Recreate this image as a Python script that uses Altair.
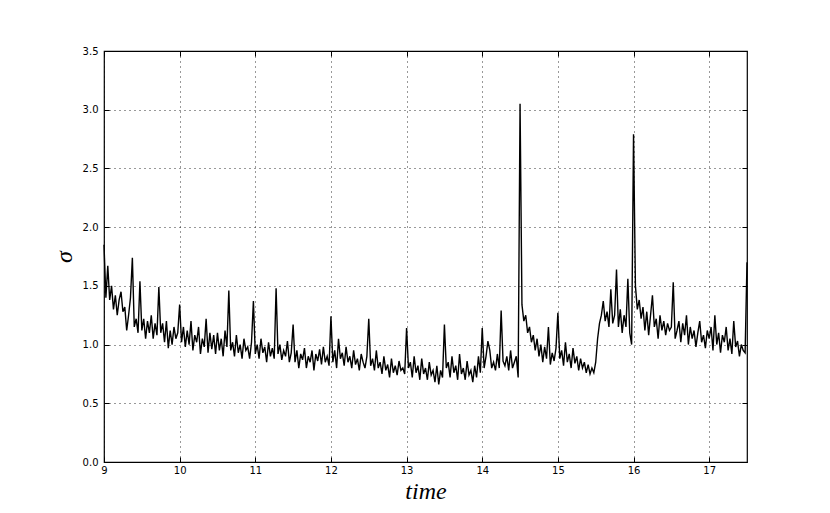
import altair as alt
import pandas as pd

T_START = 9.0
T_STEP = 0.025

sigma_rows = [
    [1.85,1.40,1.67,1.38,1.50,1.30,1.42,1.25,1.38,1.45,1.28,1.32,1.12,1.25,1.40,1.74,1.15,1.22,1.10,1.54],
    [1.12,1.22,1.05,1.20,1.10,1.25,1.05,1.18,1.08,1.49,1.10,1.18,1.02,1.20,0.97,1.12,1.00,1.15,1.05,1.10],
    [1.34,1.02,1.15,0.98,1.12,1.00,1.20,0.95,1.08,1.02,1.15,0.92,1.05,0.98,1.22,0.93,1.10,0.96,1.08,0.92],
    [1.10,0.95,1.05,0.90,1.12,0.98,1.46,0.95,1.02,0.90,1.08,0.93,1.00,0.88,1.05,0.95,0.98,0.88,1.02,1.37],
    [0.92,1.00,0.88,1.05,0.93,0.98,0.85,1.02,0.90,0.97,0.88,1.48,0.92,1.00,0.87,0.95,0.90,1.03,0.85,0.93],
    [1.17,0.85,0.95,0.80,0.92,0.87,0.97,0.80,0.90,0.85,0.95,0.78,0.92,0.86,0.96,0.83,0.98,0.85,0.90,0.82],
    [1.24,0.85,0.95,0.80,1.05,0.88,0.93,0.82,0.98,0.85,0.90,0.80,0.95,0.83,0.88,0.78,0.92,0.85,0.80,0.90],
    [1.22,0.82,0.88,0.78,0.95,0.80,0.85,0.75,0.90,0.78,0.83,0.72,0.88,0.76,0.82,0.74,0.86,0.78,0.80,0.75],
    [1.14,0.80,0.85,0.72,0.90,0.76,0.82,0.70,0.88,0.75,0.80,0.70,0.85,0.74,0.78,0.68,0.82,0.66,0.78,0.72],
    [1.17,0.80,0.85,0.72,0.90,0.76,0.82,0.70,0.92,0.75,0.80,0.70,0.86,0.74,0.78,0.68,0.82,0.72,0.90,0.76],
    [1.14,0.80,0.90,1.03,0.95,0.80,0.85,0.78,0.92,0.80,1.29,0.86,0.82,0.90,0.78,0.95,0.80,0.85,0.90,0.72],
    [3.05,1.34,1.20,1.25,1.10,1.15,1.02,1.08,0.95,1.05,0.90,1.00,0.85,0.98,0.88,1.15,0.83,0.93,0.86,0.97],
    [1.27,0.88,0.95,0.82,1.02,0.85,0.92,0.80,0.97,0.84,0.90,0.78,0.88,0.80,0.85,0.76,0.83,0.75,0.80,0.76],
    [0.85,1.05,1.18,1.25,1.37,1.20,1.28,1.15,1.47,1.18,1.25,1.64,1.15,1.30,1.10,1.25,1.15,1.56,1.10,1.00],
    [2.79,1.50,1.30,1.38,1.22,1.32,1.12,1.28,1.08,1.25,1.42,1.15,1.22,1.05,1.25,1.12,1.20,1.08,1.18,1.12],
    [1.15,1.53,1.05,1.12,1.20,1.02,1.18,1.08,1.25,1.00,1.15,1.05,1.12,0.98,1.10,1.20,1.02,1.08,0.97,1.12],
    [1.05,1.15,0.95,1.25,1.00,1.10,0.93,1.08,1.02,1.15,0.95,1.05,0.92,1.20,0.98,1.03,0.90,1.00,0.95,0.93],
    [1.70],
]

x_ticks = [9, 10, 11, 12, 13, 14, 15, 16, 17]
y_ticks = [0.0, 0.5, 1.0, 1.5, 2.0, 2.5, 3.0, 3.5]

sigma = [v for row in sigma_rows for v in row]
times = [round(T_START + T_STEP * i, 3) for i in range(len(sigma))]
df = pd.DataFrame({"time": times, "sigma": sigma})

TICK = 5
xscale = alt.Scale(domain=[9, 17.5], nice=False, zero=False)
yscale = alt.Scale(domain=[0, 3.5], nice=False, zero=True)

base = alt.Chart(df)

main = base.mark_line(color="black", strokeWidth=1.4).encode(
    x=alt.X("time:Q", scale=xscale,
            axis=alt.Axis(values=x_ticks, format="d", title="time", orient="bottom",
                          domain=False, ticks=True, tickSize=TICK, offset=-TICK,
                          tickColor="black", labelPadding=3, labelFlush=False,
                          labelOverlap=False,
                          labelFont="DejaVu Sans", labelFontSize=10, labelColor="black",
                          titleFont="Liberation Serif", titleFontStyle="italic",
                          titleFontWeight="normal", titleFontSize=24, titleColor="black",
                          titlePadding=4,
                          grid=True, gridColor="black", gridDash=[1, 4], gridWidth=1,
                          gridOpacity=0.8)),
    y=alt.Y("sigma:Q", scale=yscale,
            axis=alt.Axis(values=y_ticks, format=".1f", title="σ", orient="left",
                          domain=False, ticks=True, tickSize=TICK, offset=-TICK,
                          tickColor="black", labelPadding=6, labelFlush=False,
                          labelOverlap=False,
                          labelFont="DejaVu Sans", labelFontSize=10, labelColor="black",
                          titleFont="Liberation Serif", titleFontStyle="italic",
                          titleFontWeight="normal", titleFontSize=24, titleColor="black",
                          titlePadding=6,
                          grid=True, gridColor="black", gridDash=[1, 4], gridWidth=1,
                          gridOpacity=0.8)),
)

frame = base.mark_line(strokeOpacity=0).encode(
    x=alt.X("time:Q", scale=xscale,
            axis=alt.Axis(values=x_ticks, orient="top", labels=False, title=None,
                          domain=False, ticks=True, tickSize=TICK, offset=-TICK,
                          tickColor="black", grid=False)),
    y=alt.Y("sigma:Q", scale=yscale,
            axis=alt.Axis(values=y_ticks, orient="right", labels=False, title=None,
                          domain=False, ticks=True, tickSize=TICK, offset=-TICK,
                          tickColor="black", grid=False)),
)

chart = alt.layer(main, frame).resolve_axis(x="independent", y="independent").properties(
    width=643, height=411,
    autosize=alt.AutoSizeParams(type="none"),
    padding={"left": 96, "top": 43, "right": 75, "bottom": 42},
    background="white",
).configure_view(stroke="black", strokeWidth=1.2)

chart.save("out.html", embed_options={"renderer": "svg", "actions": False})
